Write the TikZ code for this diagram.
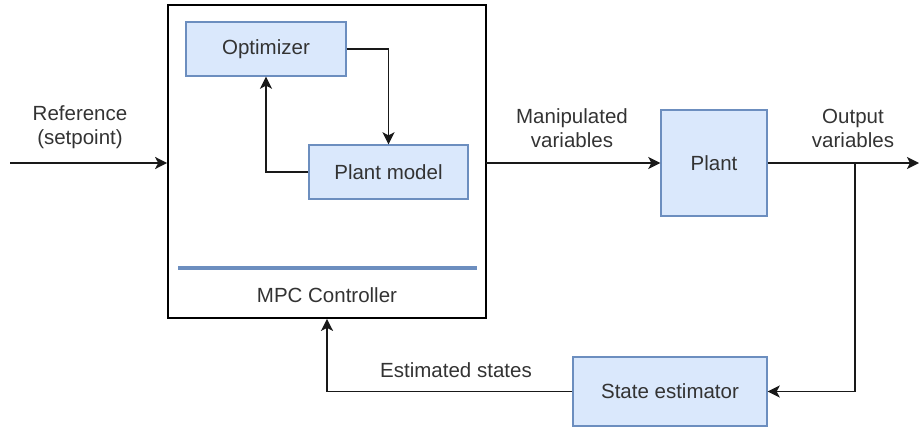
\documentclass[tikz,border=0pt]{standalone}
\usepackage{fontspec}
\setmainfont{Liberation Sans}
\usetikzlibrary{arrows.meta}
\definecolor{boxfill}{HTML}{DAE8FC}
\definecolor{boxline}{HTML}{6C8EBF}
\definecolor{txt}{HTML}{333333}
\begin{document}
\begin{tikzpicture}[x=1pt,y=-1pt,
  every node/.style={font=\fontsize{20.5}{24}\selectfont, text=txt},
  blockbox/.style={draw=boxline, fill=boxfill, line width=1.4pt, inner sep=0pt},
  conn/.style={draw=black!90, line width=1.7pt},
  arr/.style={conn, -{Stealth[length=12pt,width=12pt,inset=3pt]}},
  lbl/.style={align=center, inner sep=0pt}]
\useasboundingbox (0,0) rectangle (920,428);
\node[draw=black, line width=1.7pt, minimum width=318pt, minimum height=313pt, inner sep=0pt] (mpc) at (327,161.5) {};
\node[blockbox, minimum width=160pt, minimum height=54pt] (opt) at (266,49) {Optimizer};
\node[blockbox, minimum width=159pt, minimum height=54pt] (pm) at (388.5,172) {Plant model};
\node[blockbox, minimum width=106pt, minimum height=106pt] (plant) at (714,163) {Plant};
\node[blockbox, minimum width=194pt, minimum height=69pt] (se) at (670,391.5) {State estimator};
\coordinate (sepL) at (178,268);
\coordinate (sepR) at (477,268);
\draw[boxline, line width=3.5pt] (sepL) -- (sepR);
\node[lbl] (mpclbl) at (327,295) {MPC Controller};
\node[lbl] (reflbl) at (80,127) {Reference\\(setpoint)};
\node[lbl] (mvlbl) at (572,128) {Manipulated\\variables};
\node[lbl] (ovlbl) at (853,128) {Output\\variables};
\node[lbl] (eslbl) at (456,370) {Estimated states};
\coordinate (ref) at (10,163);
\coordinate (mpcout) at (486,163);
\coordinate (out) at (919,163);
\coordinate (br) at (855,163);
\draw[arr] (opt.east) -| (pm.north);
\draw[arr] (pm.west) -| (opt.south);
\draw[arr] (ref) -- (ref -| mpc.west);
\draw[arr] (mpcout) -- (plant.west);
\draw[arr] (plant.east) -- (out);
\draw[arr] (br) |- (se.east);
\draw[arr] (se.west) -| (mpc.south);
\end{tikzpicture}
\end{document}
